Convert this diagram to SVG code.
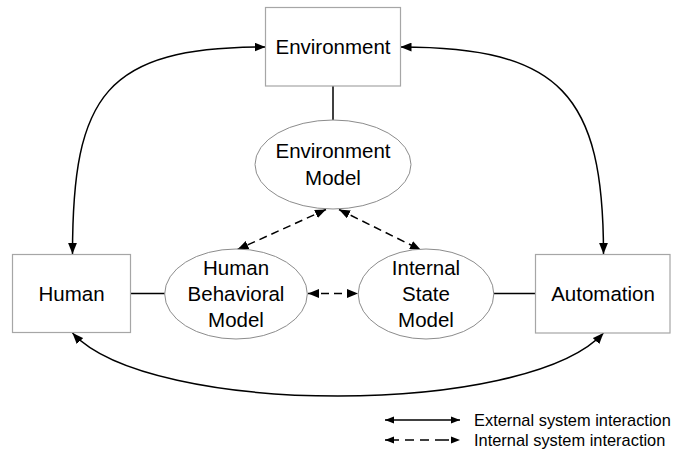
<svg xmlns="http://www.w3.org/2000/svg" width="673" height="453" viewBox="0 0 673 453">
<style>
.box{fill:#fff;stroke:#a6a6a6;stroke-width:1.2}
.ell{fill:#fff;stroke:#8c8c8c;stroke-width:1}
.t{font-family:"Liberation Sans",Arial,sans-serif;font-size:20.5px;fill:#000;text-anchor:middle}
.lg{font-family:"Liberation Sans",Arial,sans-serif;font-size:16.4px;fill:#000}
.c{fill:none;stroke:#000;stroke-width:1.5}
.d{fill:none;stroke:#000;stroke-width:1.5;stroke-dasharray:8 5}
</style>
<defs>
<marker id="ah" viewBox="0 0 10 8" refX="10" refY="4" markerWidth="11" markerHeight="9" markerUnits="userSpaceOnUse" orient="auto-start-reverse">
<path d="M0,0 L10,4 L0,8 z" fill="#000"/>
</marker>
<marker id="ahs" viewBox="0 0 10 8" refX="10" refY="4" markerWidth="9" markerHeight="8" markerUnits="userSpaceOnUse" orient="auto-start-reverse">
<path d="M0,0 L10,4 L0,8 z" fill="#000"/>
</marker>
</defs>
<g id="connectors">
<line class="c" x1="333" y1="86" x2="333" y2="120"/>
<line class="c" x1="130.5" y1="293.5" x2="165" y2="293.5"/>
<line class="c" x1="494" y1="293.5" x2="535.5" y2="293.5"/>
<path class="c" d="M72.5,254 C72.5,95 105,47 265.5,47" marker-start="url(#ah)" marker-end="url(#ah)"/>
<path class="c" d="M400.5,47 C561,47 603.5,95 603.5,254" marker-start="url(#ah)" marker-end="url(#ah)"/>
<path class="c" d="M72.5,333 C150,417 526,417 603.5,333" marker-start="url(#ah)" marker-end="url(#ah)"/>
<line class="d" x1="326" y1="209.5" x2="237.5" y2="249.5" marker-start="url(#ah)" marker-end="url(#ah)"/>
<line class="d" x1="339" y1="209.5" x2="421" y2="250" marker-start="url(#ah)" marker-end="url(#ah)"/>
<line class="d" x1="308" y1="293.5" x2="358" y2="293.5" stroke-dasharray="16 6 8 6 16" marker-start="url(#ah)" marker-end="url(#ah)"/>
</g>
<g id="environment">
<rect class="box" x="265.5" y="7.5" width="135" height="78.5"/>
<text class="t" x="333" y="54">Environment</text>
</g>
<g id="environment-model">
<ellipse class="ell" cx="333" cy="164.5" rx="78" ry="44.5"/>
<text class="t" x="333" y="158">Environment</text>
<text class="t" x="333" y="185">Model</text>
</g>
<g id="human">
<rect class="box" x="12.5" y="254.5" width="118" height="78"/>
<text class="t" x="71.5" y="301">Human</text>
</g>
<g id="human-behavioral-model">
<ellipse class="ell" cx="236" cy="294" rx="71.3" ry="45"/>
<text class="t" x="236" y="274.5">Human</text>
<text class="t" x="236" y="300.5">Behavioral</text>
<text class="t" x="236" y="326.5">Model</text>
</g>
<g id="internal-state-model">
<ellipse class="ell" cx="426" cy="294" rx="67.8" ry="45"/>
<text class="t" x="426" y="274.5">Internal</text>
<text class="t" x="426" y="300.5">State</text>
<text class="t" x="426" y="326.5">Model</text>
</g>
<g id="automation">
<rect class="box" x="535.5" y="254.5" width="134.5" height="78.5"/>
<text class="t" x="603" y="301">Automation</text>
</g>
<g id="legend">
<line class="c" x1="385" y1="420" x2="460" y2="420" marker-start="url(#ahs)" marker-end="url(#ahs)"/>
<line class="c" x1="385" y1="440" x2="460" y2="440" stroke-dasharray="14 6 9 6 9 6 14" marker-start="url(#ahs)" marker-end="url(#ahs)"/>
<text class="lg" x="474" y="425.5">External system interaction</text>
<text class="lg" x="474" y="446">Internal system interaction</text>
</g>
</svg>
